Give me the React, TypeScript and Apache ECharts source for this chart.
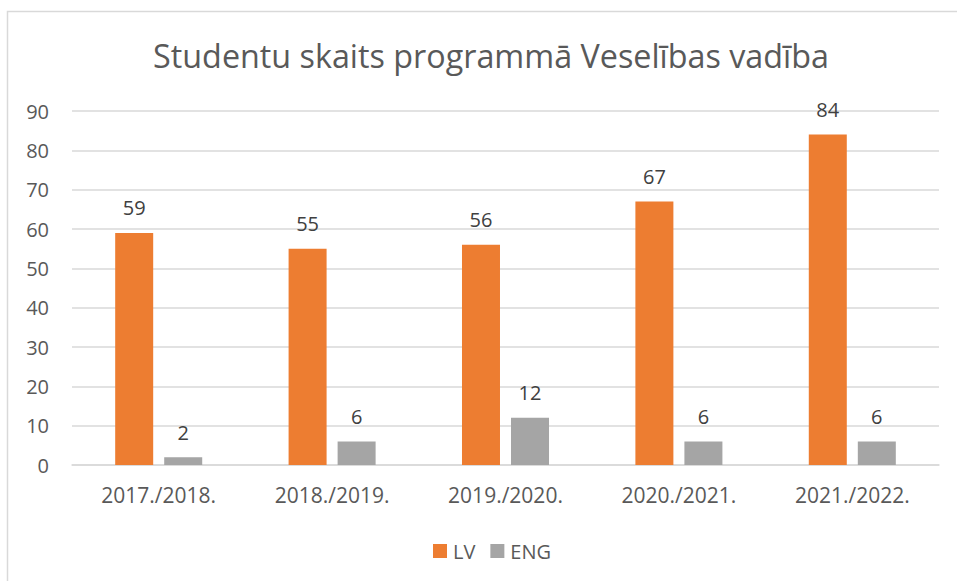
import React, { useEffect, useRef } from "react";
import * as echarts from "echarts";

const categories = ["2017./2018.", "2018./2019.", "2019./2020.", "2020./2021.", "2021./2022."];
const lvValues = [59, 55, 56, 67, 84];
const engValues = [2, 6, 12, 6, 6];
const titleText = "Studentu skaits programmā Veselības vadība";

const FONT = "'Open Sans', sans-serif";

export default function App() {
  const ref = useRef<HTMLDivElement>(null);
  useEffect(() => {
    if (!ref.current) return;
    const chart = echarts.init(ref.current, undefined, { renderer: "svg" });
    chart.setOption({
      animation: false,
      backgroundColor: "#ffffff",
      textStyle: { fontFamily: FONT },
      title: {
        text: titleText,
        left: 486,
        textAlign: "center",
        top: 34,
        textStyle: { fontFamily: FONT, fontSize: 32.3, fontWeight: "normal", color: "#595959" },
      },
      graphic: [
        {
          type: "rect",
          shape: { x: 7.5, y: 11.5, width: 980, height: 620 },
          style: { fill: "none", stroke: "#d9d9d9", lineWidth: 1.5 },
          silent: true,
        },
      ],
      legend: {
        top: 536,
        left: 428,
        itemWidth: 14,
        itemHeight: 14,
        itemGap: 15,
        icon: "rect",
        textStyle: { fontFamily: FONT, fontSize: 20, color: "#595959", padding: [0, 0, 0, 1] },
        data: ["LV", "ENG"],
      },
      grid: { left: 72, right: 18, top: 111, bottom: 116, containLabel: false },
      xAxis: {
        type: "category",
        data: categories,
        axisLine: { lineStyle: { color: "#d9d9d9", width: 1.5 } },
        axisTick: { show: false },
        axisLabel: { fontFamily: FONT, fontSize: 21, color: "#595959", margin: 19 },
      },
      yAxis: {
        type: "value",
        min: 0,
        max: 90,
        interval: 10,
        axisLine: { show: false },
        axisTick: { show: false },
        splitLine: { lineStyle: { color: "#d9d9d9", width: 1.5 } },
        axisLabel: { fontFamily: FONT, fontSize: 20, color: "#595959", margin: 23 },
      },
      series: [
        {
          name: "LV",
          type: "bar",
          data: lvValues,
          barWidth: 38,
          barGap: "29%",
          itemStyle: { color: "#ED7D31" },
          label: { show: true, position: "top", distance: 15, fontFamily: FONT, fontSize: 20, color: "#404040" },
        },
        {
          name: "ENG",
          type: "bar",
          data: engValues,
          barWidth: 38,
          itemStyle: { color: "#A5A5A5" },
          label: { show: true, position: "top", distance: 15, fontFamily: FONT, fontSize: 20, color: "#404040" },
        },
      ],
    });
    return () => chart.dispose();
  }, []);
  return (
    <div
      ref={ref}
      style={{ position: "fixed", left: 0, top: 0, width: 957, height: 581 }}
    />
  );
}
